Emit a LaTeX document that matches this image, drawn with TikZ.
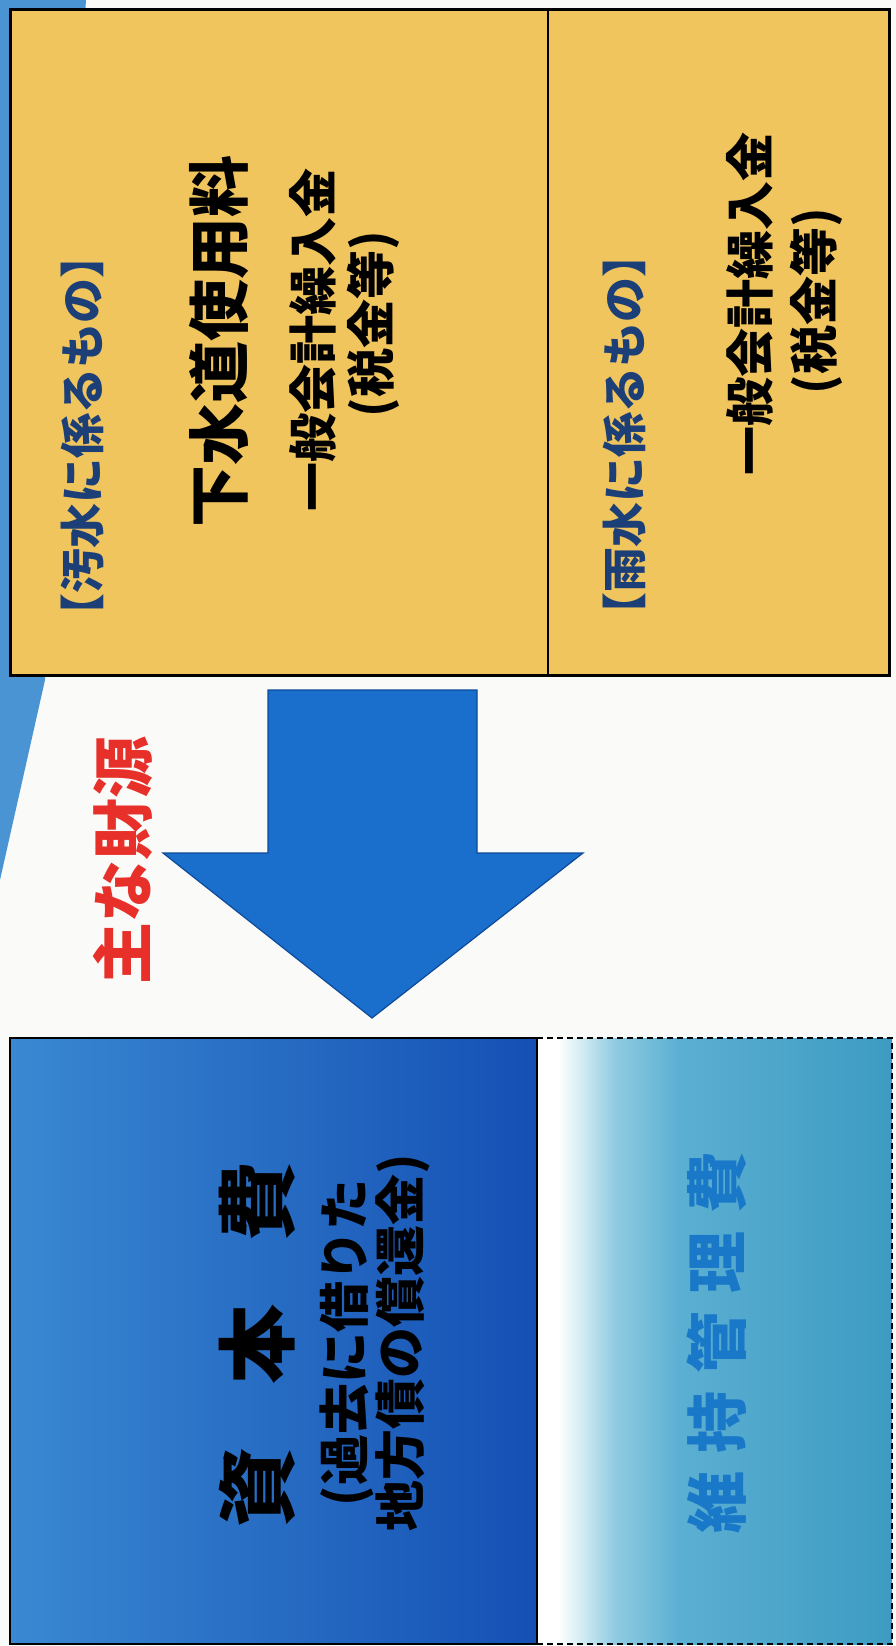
\documentclass[tikz,border=0pt]{standalone}
\usepackage{fontspec}
\newfontfamily\jp{Noto Sans CJK JP}
\definecolor{bgwhite}{HTML}{FAFAF8}
\definecolor{wedge}{HTML}{4A94D4}
\definecolor{panel}{HTML}{F1C55E}
\definecolor{navy}{HTML}{1C3F78}
\definecolor{redtxt}{HTML}{E8302A}
\definecolor{arrowblue}{HTML}{1A6FCC}
\definecolor{arrowedge}{HTML}{0E4A9A}
\definecolor{capL}{HTML}{3A88D2}
\definecolor{capR}{HTML}{1450B4}
\definecolor{mtA}{HTML}{D6EDF4}
\definecolor{mtB}{HTML}{8FCBE2}
\definecolor{mtC}{HTML}{5BAFD2}
\definecolor{mtD}{HTML}{3D9BC2}
\definecolor{mttxt}{HTML}{1A78C8}
\pgfdeclarehorizontalshading{maintshade}{100bp}{color(0bp)=(white); color(25bp)=(white); color(28bp)=(white); color(31bp)=(mtA); color(36bp)=(mtB); color(45bp)=(mtC); color(75bp)=(mtD); color(100bp)=(mtD)}
\tikzset{
  vtext/.style={rotate=90, inner sep=0pt, align=center},
  headtxt/.style={vtext, text=navy, font=\jp\bfseries\fontsize{45}{50}\selectfont},
  bigtxt/.style={vtext, text=black, font=\jp\bfseries\fontsize{62}{66}\selectfont},
  midtxt/.style={vtext, text=black, font=\jp\bfseries\fontsize{49}{54}\selectfont},
}
\begin{document}
\begin{tikzpicture}[x=1pt, y=-1pt]
\useasboundingbox (0,0) rectangle (896,1646);
\fill[bgwhite] (0,0) rectangle (896,1646);
% blue wedge at left
\fill[wedge] (0,0) -- (86,0) -- (45,680) -- (0,880) -- cycle;
% top yellow panel
\filldraw[fill=panel, draw=black, line width=3pt] (10,10) rectangle (889,675);
\draw[black, line width=2.5pt] (548,10) -- (548,675);
% arrow
\filldraw[fill=arrowblue, draw=arrowedge, line width=1.2pt, line join=miter]
  (268,690) -- (477,690) -- (477,853) -- (583,853) -- (372,1018) -- (163,853) -- (268,853) -- cycle;
% bottom boxes
\path[shading=maintshade] (537,1038) rectangle (892,1644);
\draw[black, line width=2pt, dashed, dash pattern=on 6pt off 4pt] (537,1038) -- (892,1038) -- (892,1644) -- (537,1644);
\path[left color=capL, right color=capR] (10,1038) rectangle (537,1644);
\draw[black, line width=2.5pt] (10,1038) rectangle (537,1644);
% texts top left
\node[headtxt] (oh) at (82,436) {【汚水に係るもの】};
\node[bigtxt] (gesui) at (219,341) {下水道使用料};
\node[midtxt] (ip1) at (313,340) {一般会計繰入金};
\node[midtxt] (zei1) at (373,324) {(税金等)};
% texts top right
\node[headtxt] (uh) at (624,435) {【雨水に係るもの】};
\node[midtxt] (ip2) at (750,304) {一般会計繰入金};
\node[midtxt] (zei2) at (816,301) {(税金等)};
% red label
\node[vtext, text=redtxt, font=\jp\bfseries\fontsize{62}{66}\selectfont] (zaigen) at (123,860) {主な財源};
% bottom texts
\node[vtext, text=black, font=\jp\bfseries\fontsize{80}{84}\selectfont] (shihon) at (257,1344) {資\hspace{63pt}本\hspace{63pt}費};
\node[vtext, text=black, font=\jp\bfseries\fontsize{51}{49}\selectfont] (kako) at (375,1343) {(過去に借りた\\地方債の償還金)};
\node[vtext, text=mttxt, font=\jp\bfseries\fontsize{62}{66}\selectfont] (iji) at (717,1342) {維\hspace{18pt}持\hspace{18pt}管\hspace{18pt}理\hspace{18pt}費};
\end{tikzpicture}
\end{document}
